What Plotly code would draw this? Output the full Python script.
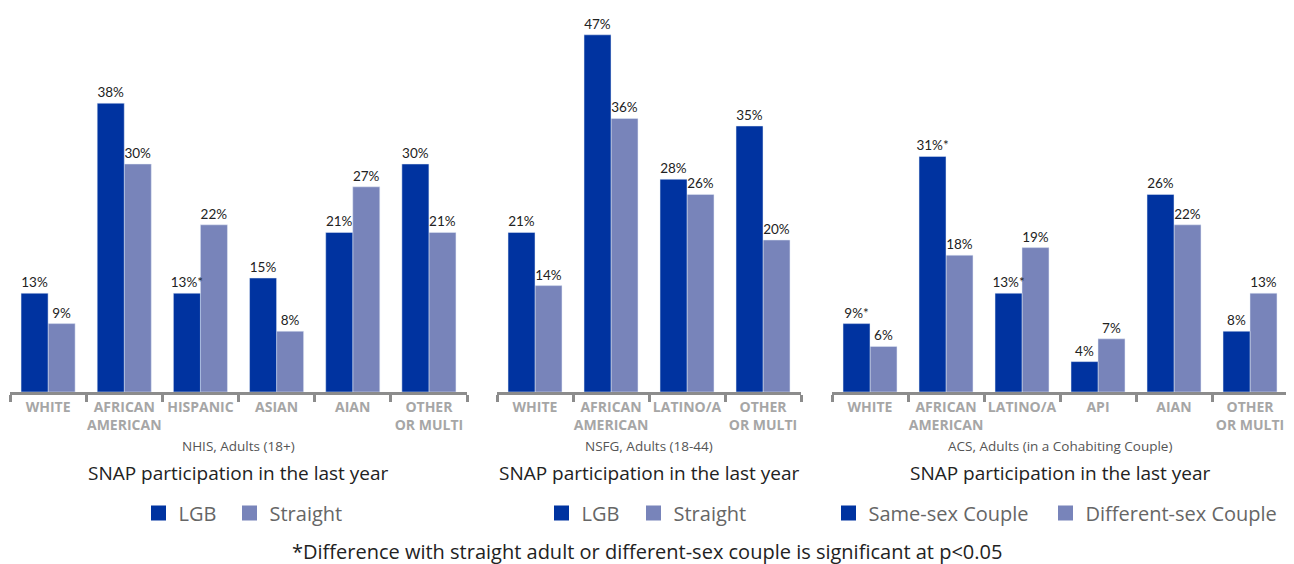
import plotly.graph_objects as go

# Данные по трём опросам (значения в процентах)
nhis_cats = ["WHITE", "AFRICAN<br>AMERICAN", "HISPANIC", "ASIAN", "AIAN", "OTHER<br>OR MULTI"]
nhis_lgb = [13, 38, 13, 15, 21, 30]
nhis_lgb_sig = [False, False, True, False, False, False]
nhis_straight = [9, 30, 22, 8, 27, 21]

nsfg_cats = ["WHITE", "AFRICAN<br>AMERICAN", "LATINO/A", "OTHER<br>OR MULTI"]
nsfg_lgb = [21, 47, 28, 35]
nsfg_lgb_sig = [False, False, False, False]
nsfg_straight = [14, 36, 26, 20]

acs_cats = ["WHITE", "AFRICAN<br>AMERICAN", "LATINO/A", "API", "AIAN", "OTHER<br>OR MULTI"]
acs_same = [9, 31, 13, 4, 26, 8]
acs_same_sig = [True, True, True, False, False, False]
acs_diff = [6, 18, 19, 7, 22, 13]

panel_subtitles = ["NHIS, Adults (18+)", "NSFG, Adults (18-44)", "ACS, Adults (in a Cohabiting Couple)"]
panel_title = "SNAP participation in the last year"
footnote = "*Difference with straight adult or different-sex couple is significant at p<0.05"

DARK = "#0033a0"
LIGHT = "#7884ba"
FONT = "Open Sans"
# у body в странице есть отступ 8px, поэтому фигура чуть меньше окна
W, H = 1286, 556
BW = 0.355  # ширина столбика в долях категории


def labels(vals, sig=None):
    sig = sig or [False] * len(vals)
    return [f"{v}%" + ("*" if s else "") for v, s in zip(vals, sig)]


panels = [
    (nhis_cats, ("LGB", nhis_lgb, nhis_lgb_sig), ("Straight", nhis_straight, None), (2, 459)),
    (nsfg_cats, ("LGB", nsfg_lgb, nsfg_lgb_sig), ("Straight", nsfg_straight, None), (489, 793)),
    (acs_cats, ("Same-sex Couple", acs_same, acs_same_sig), ("Different-sex Couple", acs_diff, None), (824, 1280)),
]
legend_x = [(130.5, 221.5), (533.5, 625.5), (820.5, 1037.5)]

fig = go.Figure()
layout = {}
annotations = []

for i, (cats, s1, s2, (x0, x1)) in enumerate(panels):
    n = "" if i == 0 else str(i + 1)
    # светлые рисуем первыми, чтобы подписи тёмных были поверх
    for (name, vals, sig), color, off in [(s2, LIGHT, 0), (s1, DARK, -BW)]:
        fig.add_trace(go.Bar(
            x=cats, y=vals, name=name, marker_color=color, showlegend=False,
            width=BW, offset=off,
            text=labels(vals, sig), textposition="outside", constraintext="none",
            textangle=0, cliponaxis=False,
            textfont=dict(family="Lato", size=13.5, color="#222222"),
            xaxis="x" + n, yaxis="y" + n,
        ))
    for j, ((name, vals, sig), color) in enumerate([(s1, DARK), (s2, LIGHT)]):
        # квадратик для легенды, у каждого своя легенда
        k = 2 * i + j + 1
        lg = "legend" if k == 1 else f"legend{k}"
        fig.add_trace(go.Scatter(
            x=[None], y=[None], mode="markers", name=name,
            marker=dict(symbol="square", size=15, color=color),
            xaxis="x" + n, yaxis="y" + n, legend=lg,
        ))
        layout[lg] = dict(
            orientation="h", x=legend_x[i][j] / W, xanchor="left", y=1 - 505 / H, yanchor="middle",
            font=dict(family=FONT, size=20, color="#666666"), bgcolor="rgba(0,0,0,0)",
        )
    layout["xaxis" + n] = dict(
        domain=[x0 / W, x1 / W], anchor="y" + n, type="category",
        showline=True, linecolor="#8c8c8c", linewidth=3,
        ticks="outside", tickson="boundaries", ticklen=7, tickwidth=3, tickcolor="#8c8c8c",
        tickfont=dict(family=FONT, size=14, color="#a6a6a6", weight="bold"),
        tickangle=0, automargin=False,
        showgrid=False, fixedrange=True,
    )
    layout["yaxis" + n] = dict(
        domain=[(H - 384) / H, 1 - 4 / H], anchor="x" + n, range=[0, 50],
        visible=False, showgrid=False, zeroline=False, automargin=False,
    )
    cx = (x0 + x1) / 2 / W
    annotations.append(dict(text=panel_subtitles[i], x=cx, y=1 - 438 / H, xref="paper", yref="paper",
                            xanchor="center", yanchor="middle", showarrow=False,
                            font=dict(family=FONT, size=13.5, color="#555555")))
    annotations.append(dict(text=panel_title, x=cx, y=1 - 465 / H, xref="paper", yref="paper",
                            xanchor="center", yanchor="middle", showarrow=False,
                            font=dict(family=FONT, size=19, color="#222222")))

annotations.append(dict(text=footnote, x=(647 - 8) / W, y=1 - 543 / H, xref="paper", yref="paper",
                        xanchor="center", yanchor="middle", showarrow=False,
                        font=dict(family=FONT, size=20, color="#222222")))

fig.update_layout(
    **layout,
    annotations=annotations,
    barmode="overlay",
    width=W, height=H, margin=dict(l=0, r=0, t=0, b=0, autoexpand=False),
    plot_bgcolor="white", paper_bgcolor="white",
    showlegend=True,
)

fig.write_html("out.html")
